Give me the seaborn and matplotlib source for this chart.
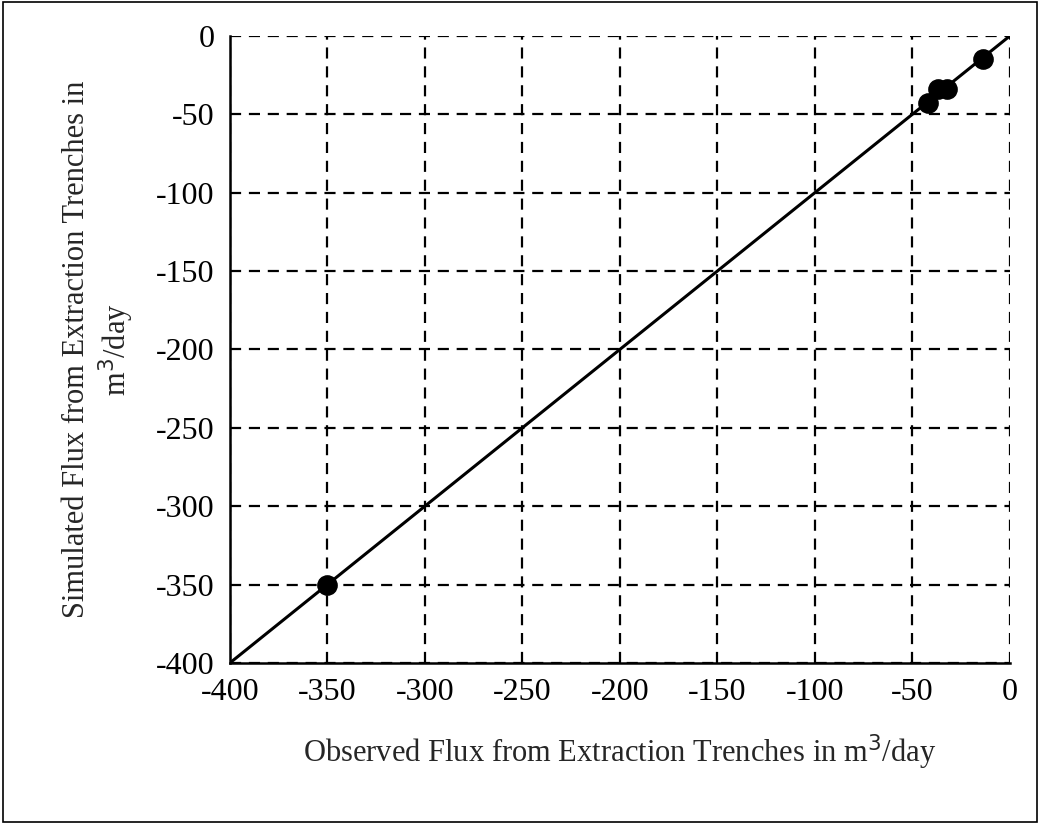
import matplotlib
matplotlib.use("Agg")
import matplotlib.pyplot as plt
import seaborn as sns
import pandas as pd
from matplotlib.patches import Rectangle

# observed vs simulated flux (m3/day)
observed = [-350, -42, -37, -32, -14]
simulated = [-350, -43, -34, -34, -15]

# 1:1 line
line_x = [-400, 0]
line_y = [-400, 0]

ticks = [-400, -350, -300, -250, -200, -150, -100, -50, 0]

sns.set_style("white")
plt.rcParams['font.family'] = ['Liberation Serif', 'DejaVu Serif']

fig = plt.figure(figsize=(10.4, 8.24), dpi=100)
ax = fig.add_axes([0.221, 0.1954, 0.75, 0.761])

df = pd.DataFrame({'observed': observed, 'simulated': simulated})
line_df = pd.DataFrame({'x': line_x, 'y': line_y})

sns.lineplot(data=line_df, x='x', y='y', ax=ax, color='black', linewidth=2.2, zorder=3)
sns.scatterplot(data=df, x='observed', y='simulated', ax=ax, color='black',
                s=190, edgecolor='black', zorder=4)

ax.set_xlim(-400, 0)
ax.set_ylim(-400, 0)
ax.set_xticks(ticks)
ax.set_yticks(ticks)
ax.set_xticklabels([str(t) for t in ticks])
ax.set_yticklabels([str(t) for t in ticks])
ax.tick_params(direction='inout', length=12, width=1.5, labelsize=23, colors='black', pad=5)

ax.grid(True, color='black', linestyle=(0, (5, 3.5)), linewidth=1.6)
for side in ['left', 'bottom']:
    ax.spines[side].set_color('black')
    ax.spines[side].set_linewidth(1.8)
for side in ['top', 'right']:
    ax.spines[side].set_visible(False)

ax.set_xlabel('Observed Flux from Extraction Trenches in m$^3$/day', fontsize=22, labelpad=18)
ax.set_ylabel('Simulated Flux from Extraction Trenches in\nm$^3$/day', fontsize=22, labelpad=14)

# border around the whole figure
fig.patches.append(Rectangle((0.003, 0.003), 0.994, 0.994, transform=fig.transFigure,
                             fill=False, edgecolor='black', linewidth=1.2))

plt.savefig('out.png', dpi=100)
